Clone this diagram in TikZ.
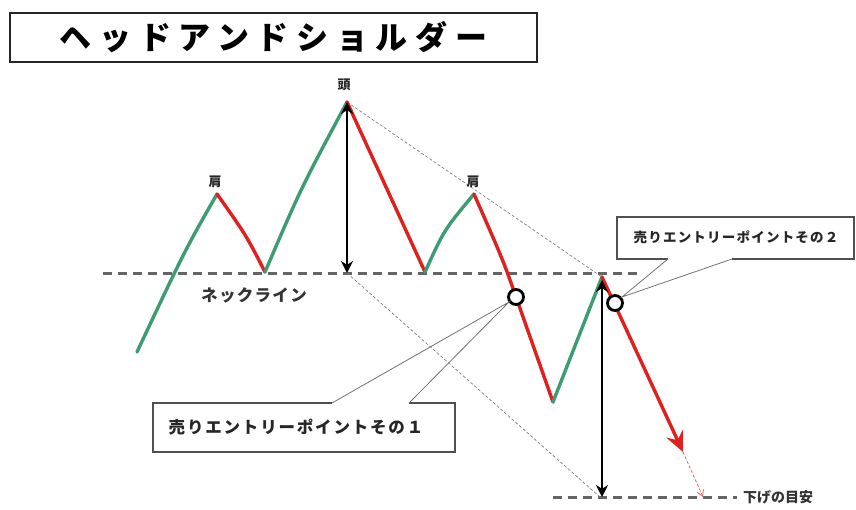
\documentclass[tikz,border=0pt]{standalone}
\usepackage{fontspec}
\setmainfont{Noto Sans CJK JP}
\usetikzlibrary{arrows.meta}
\definecolor{upgreen}{HTML}{3E9C73}
\definecolor{downred}{HTML}{E01F1F}
\definecolor{neckgray}{HTML}{646464}
\definecolor{boxgray}{HTML}{505050}
\begin{document}
\begin{tikzpicture}[x=1pt,y=-1pt,
  upleg/.style={draw=upgreen, line width=3.4pt, line cap=round, line join=round},
  downleg/.style={draw=downred, line width=3.4pt, line cap=round, line join=round},
  neckline/.style={draw=neckgray, line width=3pt, dash pattern=on 9pt off 6pt},
  guide/.style={draw=gray, line width=0.7pt, dash pattern=on 3pt off 2pt},
  measure/.style={draw=black, line width=2.4pt, {Stealth[length=12pt,width=12pt]}-{Stealth[length=12pt,width=12pt]}},
  entry/.style={circle, draw=black, line width=2.8pt, fill=white, minimum size=15pt, inner sep=0pt},
  callout/.style={draw=boxgray, line width=1.1pt},
  label/.style={font=\bfseries\fontsize{13}{13}\selectfont, inner sep=0pt, text=black!85},
]
\useasboundingbox (0,0) rectangle (856,509);
% title
\node[draw=black!85, line width=1.8pt, minimum width=527pt, minimum height=49pt, inner sep=0pt,
  font=\bfseries\fontsize{32}{32}\selectfont\addfontfeature{LetterSpace=24}] (title) at (273.5,37.5) {ヘッドアンドショルダー};

% key points
\coordinate (p0) at (137,352);
\coordinate (ls) at (217,194);
\coordinate (n1) at (265,272);
\coordinate (hd) at (347,102);
\coordinate (n2) at (425,272);
\coordinate (rs) at (474,194);
\coordinate (lo) at (553,402);
\coordinate (pb) at (602,277);
\coordinate (tgt) at (683,452);
\coordinate (end) at (703,497);

% neckline and target line
\coordinate (nlA) at (103,273);
\coordinate (nlB) at (642,273);
\coordinate (tlA) at (553,497);
\coordinate (tlB) at (737,497);
\draw[neckline] (nlA) -- (nlB);
\draw[neckline] (tlA) -- (tlB);

% guides
\coordinate (hbase) at (347,273);
\coordinate (tbase) at (600,497);
\draw[guide] (hd) -- (pb);
\draw[guide] (hbase) -- (tbase);

% price path
\draw[upleg] (p0) .. controls (185,250) .. (ls);
\draw[downleg] (ls) .. controls (246,235) .. (n1);
\draw[upleg] (n1) .. controls (301,188) .. (hd);
\draw[downleg] (hd) -- (n2);
\draw[upleg] (n2) .. controls (444,230) .. (rs);
\draw[downleg] (rs) .. controls (503,260) .. (516,297) -- (lo);
\draw[upleg] (lo) -- (pb);
\draw[downleg, -{Stealth[length=20pt,width=18pt,inset=7pt]}] (pb) -- (tgt);
\draw[draw=downred!70, line width=0.8pt, dash pattern=on 3pt off 2pt, -{Straight Barb[length=6pt,width=7pt]}] (tgt) -- (end);

% measurement arrows
\draw[measure] (hd) -- (hbase);
\coordinate (m2top) at (602,280);
\coordinate (m2bot) at (602,497);
\draw[measure] (m2top) -- (m2bot);

% entry points
\node[entry] (e1) at (516,297) {};
\node[entry] (e2) at (615,303) {};

% labels
\node[label] (lhead) at (344,85) {頭};
\node[label] (lls) at (215,182) {肩};
\node[label] (lrs) at (473,182) {肩};
\node[font=\bfseries\fontsize{16.5}{16.5}\selectfont\addfontfeature{LetterSpace=8}, text=black!80, inner sep=0pt] (neckname) at (254,295) {ネックライン};
\node[font=\bfseries\fontsize{14}{14}\selectfont, text=black!80, inner sep=0pt, anchor=west] (tgtname) at (743,497) {下げの目安};

% callout 1
\coordinate (c1a) at (332,403);
\coordinate (c1b) at (409,403);
\coordinate (c1tip) at (509,302);
\draw[callout] (c1a) -- (153,403) -- (153,452) -- (455,452) -- (455,403) -- (c1b);
\draw[callout, draw=boxgray!80, line width=0.8pt] (c1a) -- (c1tip) -- (c1b);
\node[font=\bfseries\fontsize{16.5}{16.5}\selectfont\addfontfeature{LetterSpace=11}, text=black!85, inner sep=0pt] (c1text) at (296,427) {売りエントリーポイントその１};

% callout 2
\coordinate (c2a) at (668,259);
\coordinate (c2b) at (732,259);
\coordinate (c2tip) at (622,297);
\draw[callout] (c2a) -- (617,259) -- (617,217) -- (854,217) -- (854,259) -- (c2b);
\draw[callout, draw=boxgray!80, line width=0.8pt] (c2a) -- (c2tip) -- (c2b);
\node[font=\bfseries\fontsize{13.5}{13.5}\selectfont\addfontfeature{LetterSpace=9}, text=black!85, inner sep=0pt] (c2text) at (736,237) {売りエントリーポイントその２};
\end{tikzpicture}
\end{document}
